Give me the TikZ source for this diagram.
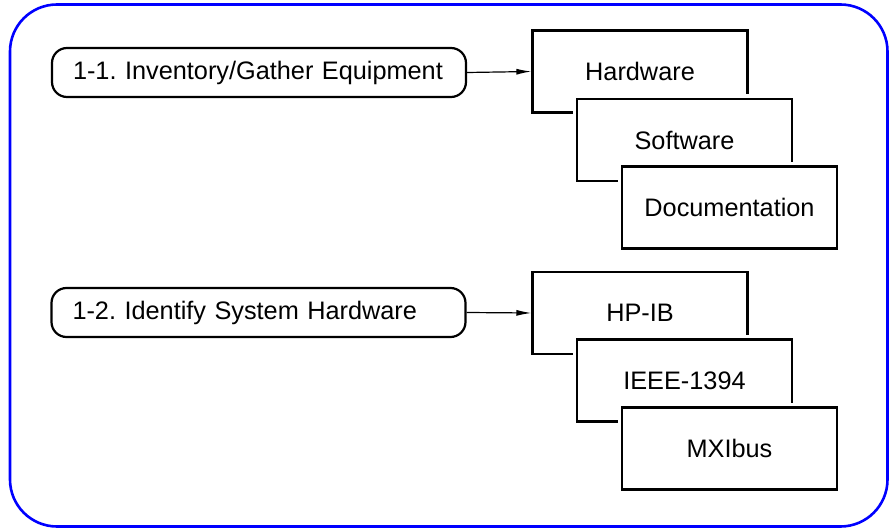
\documentclass[tikz,border=0pt]{standalone}
\usepackage{fontspec}
\setmainfont{Liberation Sans}
\usetikzlibrary{arrows.meta}
\frenchspacing
\begin{document}
\begin{tikzpicture}[x=1pt,y=-1pt,
  frame/.style={draw={rgb,255:red,0;green,0;blue,255}, line width=2.6pt, rounded corners=47pt},
  taskbox/.style={draw, line width=2.2pt, rounded corners=15pt, minimum height=49pt,
    inner xsep=21pt, inner ysep=0pt, text width=372pt, align=left, font=\fontsize{25.3}{29}\selectfont},
  card/.style={draw, line width=2.2pt, fill=white, preaction={draw=white, line width=9pt},
    minimum width=215pt, minimum height=82pt, inner sep=0pt, font=\fontsize{25.3}{29}\selectfont},
  link/.style={line width=1.2pt, -{Latex[length=15pt,width=6pt]}}
]
\useasboundingbox (0,0) rectangle (889,529);
\draw[frame] (10,4.5) rectangle (887.5,526.5);

% group 1
\node[taskbox] (t1) at (259,72.5) {1-1. Inventory/Gather Equipment};
\node[card] (hw) at (640,71.5) {Hardware};
\node[card] (sw) at (684.5,140) {Software};
\node[card] (doc) at (729.5,207.5) {Documentation};
\draw[link] (t1.east) -- (hw.west);

% group 2
\node[taskbox] (t2) at (258.5,312.5) {1-2. Identify System Hardware};
\node[card] (hp) at (640,313) {HP-IB};
\node[card] (ieee) at (684.5,380.5) {IEEE-1394};
\node[card] (mxi) at (729.5,448.5) {MXIbus};
\draw[link] (t2.east) -- (hp.west);
\end{tikzpicture}
\end{document}
